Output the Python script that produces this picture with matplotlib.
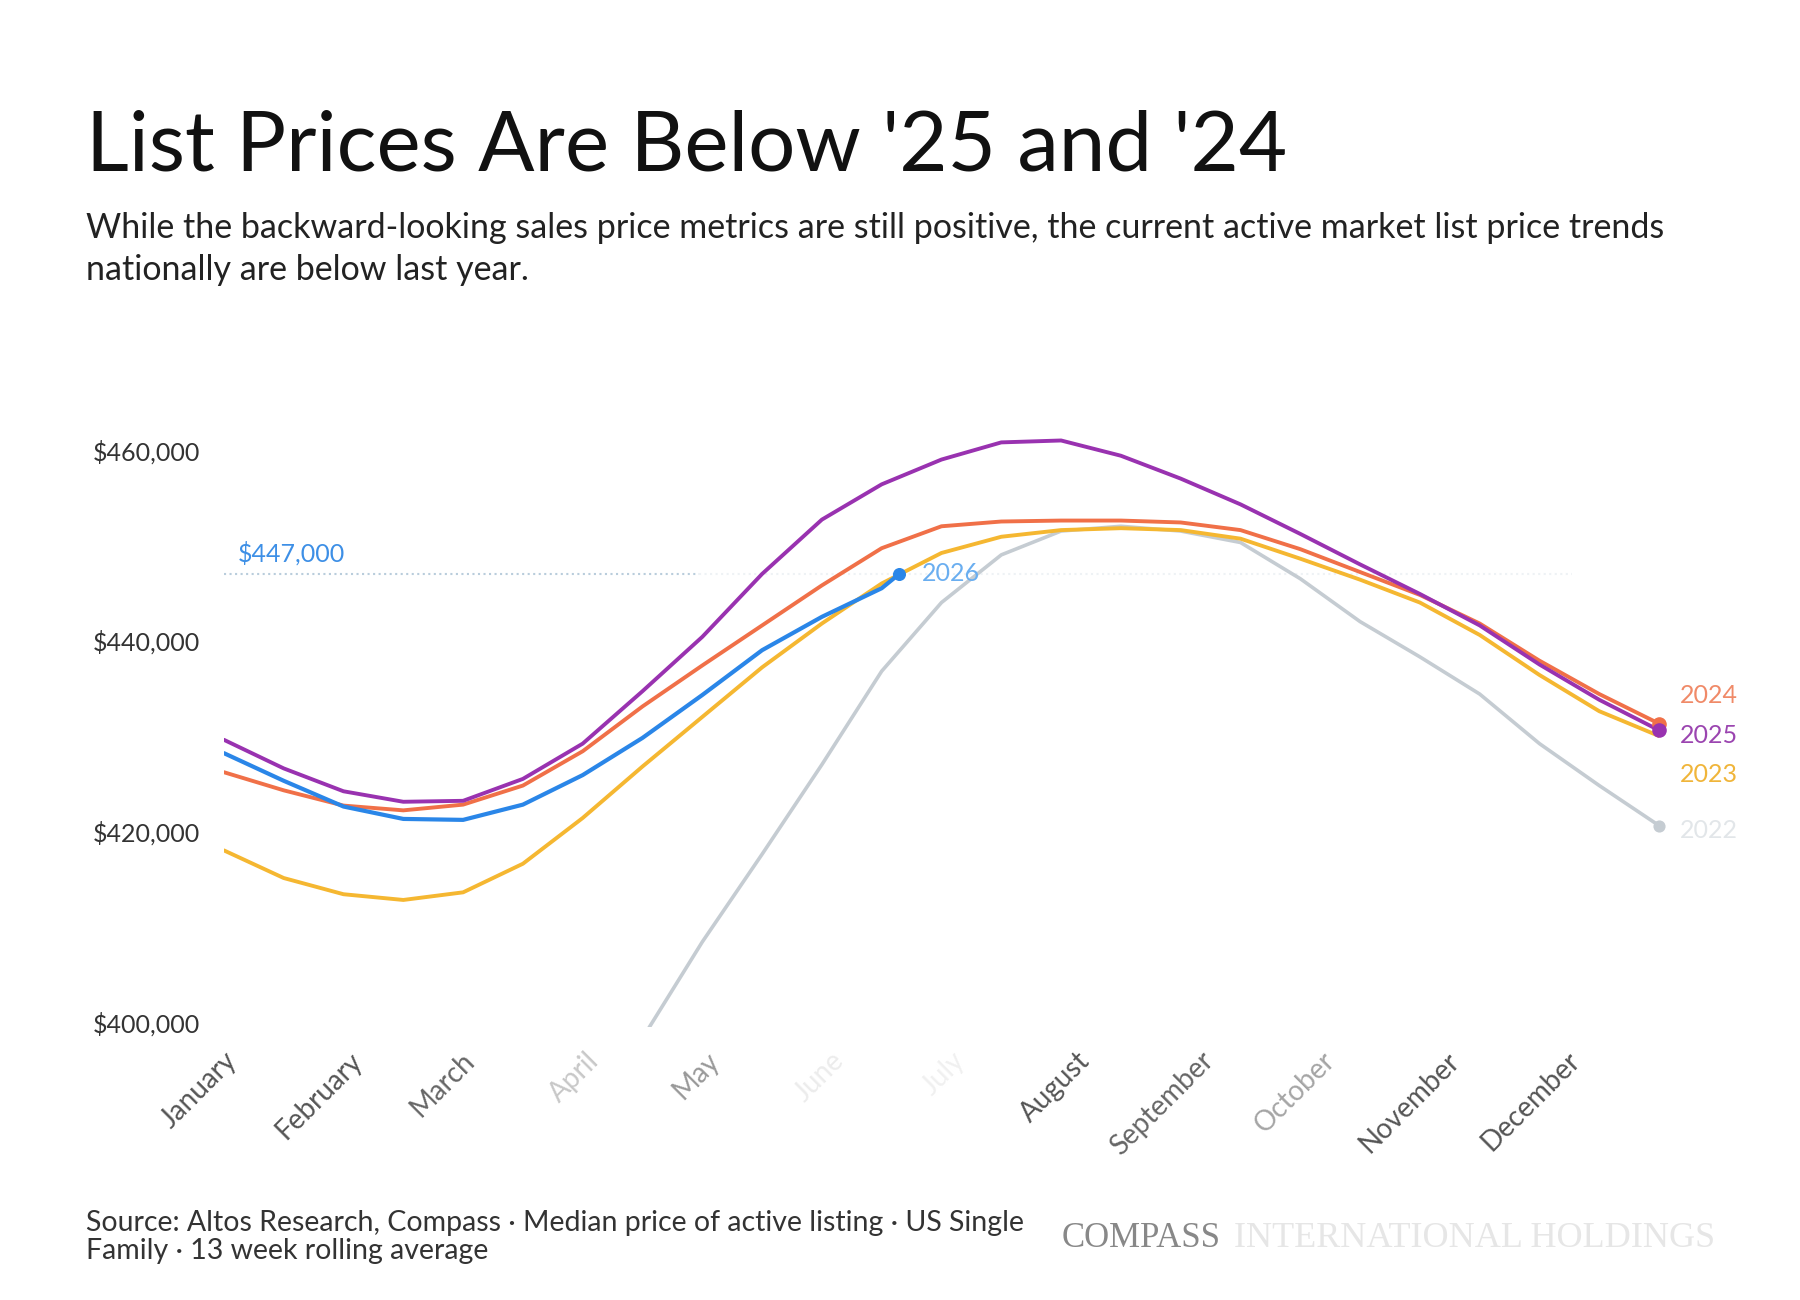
import matplotlib
matplotlib.use("Agg")
import matplotlib.pyplot as plt

# x axis is week of year (1..52); values were read every 2.125 weeks
weeks = [1 + 2.125 * i for i in range(25)]
month_labels = ["January", "February", "March", "April", "May", "June", "July",
                "August", "September", "October", "November", "December"]
month_start_week = [1, 5.43, 9.43, 13.86, 18.14, 22.57, 26.86, 31.29, 35.71, 40.0, 44.43, 48.71]
month_label_colors = ["#555555", "#555555", "#666666", "#c8c8c8", "#999999", "#ececec", "#f0f0f0",
                      "#555555", "#666666", "#a5a5a5", "#555555", "#555555"]

# values in $ thousands
price_2025 = [429.6, 426.6, 424.2, 423.1, 423.2, 425.5, 429.2, 434.7, 440.4, 447.0, 452.7, 456.4, 459.0,
              460.8, 461.0, 459.4, 457.0, 454.3, 451.2, 448.0, 444.9, 441.6, 437.5, 433.8, 430.6]
price_2024 = [426.2, 424.3, 422.7, 422.2, 422.8, 424.8, 428.4, 433.1, 437.4, 441.6, 445.8, 449.7, 452.0,
              452.5, 452.6, 452.6, 452.4, 451.6, 449.6, 447.2, 444.8, 441.8, 437.9, 434.4, 431.3]
price_2023 = [418.0, 415.1, 413.4, 412.8, 413.6, 416.6, 421.4, 426.8, 432.0, 437.2, 441.8, 446.0, 449.2,
              450.9, 451.6, 451.8, 451.6, 450.7, 448.6, 446.4, 444.0, 440.6, 436.4, 432.6, 430.0]
price_2022 = [371.0, 372.0, 374.0, 376.0, 379.0, 383.0, 389.0, 398.3, 408.4, 417.6, 427.0, 436.8, 444.0,
              449.0, 451.5, 452.0, 451.5, 450.3, 446.5, 442.0, 438.3, 434.4, 429.2, 424.8, 420.6]
weeks_2026 = weeks[:12] + [25]
price_2026 = [428.2, 425.3, 422.6, 421.3, 421.2, 422.8, 425.9, 429.8, 434.3, 439.0, 442.5, 445.5, 447.0]

yticks = [400, 420, 440, 460]

plt.rcParams['font.family'] = ['Lato', 'DejaVu Sans']

fig = plt.figure(figsize=(18, 13), dpi=100)
ax = fig.add_axes([0.1244, 0.2102, 0.7973, 0.4583])

kw = dict(solid_joinstyle="round", solid_capstyle="round")
ax.plot(weeks, price_2022, color="#c5ccd2", lw=2.6, zorder=1, **kw)
ax.plot(weeks, price_2023, color="#f5b731", lw=2.8, zorder=2, **kw)
ax.plot(weeks, price_2024, color="#f07048", lw=2.8, zorder=3, **kw)
ax.plot(weeks, price_2025, color="#9932b0", lw=2.8, zorder=4, **kw)
ax.plot(weeks_2026, price_2026, color="#2a86e8", lw=3.0, zorder=5, **kw)

# end markers
ax.scatter([weeks[-1]], [price_2024[-1]], s=90, color="#f07048", zorder=6, clip_on=False)
ax.scatter([weeks[-1]], [price_2025[-1]], s=90, color="#9932b0", zorder=7, clip_on=False)
ax.scatter([weeks[-1]], [price_2022[-1]], s=60, color="#c5ccd2", zorder=6, clip_on=False)
ax.scatter([weeks_2026[-1]], [price_2026[-1]], s=70, color="#2a86e8", zorder=8)

# reference line at the latest value
ax.plot([1, 17.9], [price_2026[-1]] * 2, ls=":", color="#b9cddc", lw=1.5, zorder=0)
ax.plot([17.9, 48.9], [price_2026[-1]] * 2, ls=":", color="#eef2f5", lw=1.5, zorder=0)
ax.text(1.5, 449.2, "$447,000", color="#3d8fe6", fontsize=18, va="center", ha="left")
ax.text(25.8, price_2026[-1], "2026", color="#6aaef0", fontsize=18, va="center", ha="left")

# end labels
ax.text(52.73, 434.2, "2024", color="#f08a68", fontsize=18, va="center", ha="left", clip_on=False)
ax.text(52.73, 430.1, "2025", color="#9b45b0", fontsize=18, va="center", ha="left", clip_on=False)
ax.text(52.73, 426.0, "2023", color="#f0b53a", fontsize=18, va="center", ha="left", clip_on=False)
ax.text(52.73, 420.1, "2022", color="#e2e6e9", fontsize=18, va="center", ha="left", clip_on=False)

ax.set_xlim(1, 52)
ax.set_ylim(399.5, 462)
ax.set_yticks(yticks)
ax.set_yticklabels(["$%d,000" % v for v in yticks], fontsize=18, color="#333333")
ax.set_xticks(month_start_week)
ax.set_xticklabels(month_labels, fontsize=20, rotation=45, ha="right", rotation_mode="anchor")
for lbl, c in zip(ax.get_xticklabels(), month_label_colors):
    lbl.set_color(c)
ax.tick_params(axis="y", length=0, pad=17)
ax.tick_params(axis="x", length=0, pad=15)
for s in ax.spines.values():
    s.set_visible(False)

fig.text(0.048, 0.869, "List Prices Are Below '25 and '24", fontsize=60, color="#111111", va="baseline")
fig.text(0.048, 0.817, "While the backward-looking sales price metrics are still positive, the current active market list price trends",
         fontsize=24.5, color="#222222", va="baseline")
fig.text(0.048, 0.785, "nationally are below last year.", fontsize=24.5, color="#222222", va="baseline")

fig.text(0.048, 0.053, "Source: Altos Research, Compass \u00b7 Median price of active listing \u00b7 US Single",
         fontsize=20.5, color="#333333", va="baseline")
fig.text(0.048, 0.0315, "Family \u00b7 13 week rolling average", fontsize=20.5, color="#333333", va="baseline")
fig.text(0.59, 0.041, "COMPASS", family="Liberation Serif", fontsize=25, color="#888888", va="baseline")
fig.text(0.6856, 0.041, "INTERNATIONAL HOLDINGS", family="Liberation Serif", fontsize=26, color="#e6e6e6",
         va="baseline")

fig.savefig("out.png", dpi=100, facecolor="white")
